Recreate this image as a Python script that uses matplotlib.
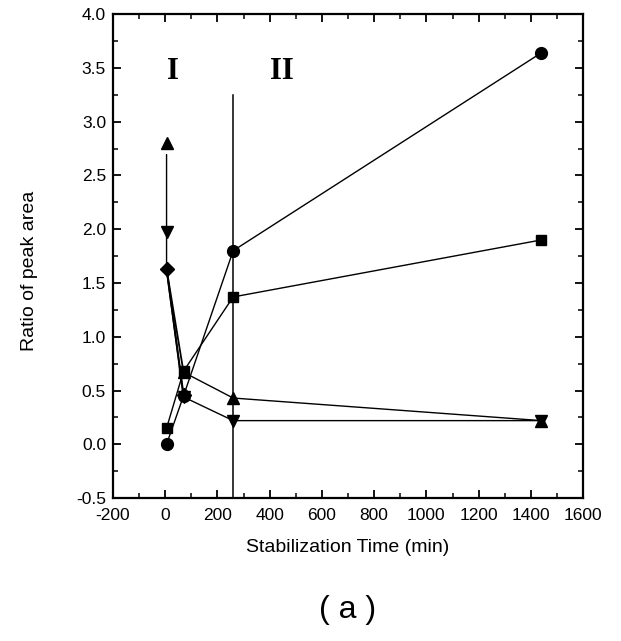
import matplotlib.pyplot as plt
from matplotlib.ticker import MultipleLocator, FormatStrFormatter

plt.rcParams['font.family'] = ['Liberation Sans', 'DejaVu Sans']
plt.rcParams['axes.unicode_minus'] = False

# stabilization time (min)
time = [5, 70, 260, 1440]

circle = [0.0, 0.45, 1.80, 3.64]
square = [0.15, 0.68, 1.37, 1.90]
tri_up = [2.80, 0.67, 0.43, 0.22]
tri_down = [1.97, 0.44, 0.22, 0.22]
diamond = [1.63, 0.46]

boundary_time = 260
boundary_top = 3.25

fig = plt.figure(figsize=(6.21, 6.41), dpi=100)
ax = fig.add_axes([0.182, 0.223, 0.757, 0.755])

ms = 8.5
ax.plot(time, circle, color='black', lw=1, marker='o', ms=ms)
ax.plot(time, square, color='black', lw=1, marker='s', ms=ms - 1.5)
ax.plot(time[1:], tri_up[1:], color='black', lw=1)
ax.plot(time[1:], tri_down[1:], color='black', lw=1)
ax.plot(time, tri_up, color='black', lw=0, marker='^', ms=ms)
ax.plot(time, tri_down, color='black', lw=0, marker='v', ms=ms)
ax.plot(time[:2], diamond, color='black', lw=1.3, marker='D', ms=ms - 1.5)
# joins from the shared starting point (thick bundle in the original)
ax.plot([time[0], time[1]], [diamond[0], tri_up[1]], color='black', lw=1.3)
ax.plot([time[0], time[1]], [diamond[0], tri_down[1]], color='black', lw=1.3)

# arrow from the up-triangle down to the down-triangle / diamond
ax.annotate('', xy=(time[0], diamond[0]), xytext=(time[0], tri_up[0] - 0.08),
            arrowprops=dict(arrowstyle='-', color='black', lw=1))

# stage boundary
ax.plot([boundary_time, boundary_time], [-0.5, boundary_top], color='black', lw=1.1)

ax.text(28, 3.47, 'I', fontsize=22, fontweight='bold', family='Liberation Serif',
        ha='center', va='center')
ax.text(445, 3.47, 'II', fontsize=22, fontweight='bold', family='Liberation Serif',
        ha='center', va='center')

ax.set_xlim(-200, 1600)
ax.set_ylim(-0.5, 4.0)
ax.xaxis.set_major_locator(MultipleLocator(200))
ax.xaxis.set_minor_locator(MultipleLocator(100))
ax.yaxis.set_major_locator(MultipleLocator(0.5))
ax.yaxis.set_minor_locator(MultipleLocator(0.25))
ax.yaxis.set_major_formatter(FormatStrFormatter('%.1f'))
ax.tick_params(which='both', direction='in', top=True, right=True, labelsize=12.5)
ax.tick_params(which='major', length=6, width=1.3)
ax.tick_params(which='minor', length=3.5, width=1.1)
ax.tick_params(axis='x', which='major', pad=7)
ax.tick_params(axis='y', which='major', pad=5)
for s in ax.spines.values():
    s.set_linewidth(1.6)

ax.set_xlabel('Stabilization Time (min)', fontsize=14, labelpad=12)
ax.set_ylabel('Ratio of peak area', fontsize=14)
ax.yaxis.set_label_coords(-0.16, 0.47)

fig.text(0.56, 0.048, '( a )', fontsize=23, fontweight='medium', ha='center', va='center')

fig.savefig('out.png', dpi=100)
